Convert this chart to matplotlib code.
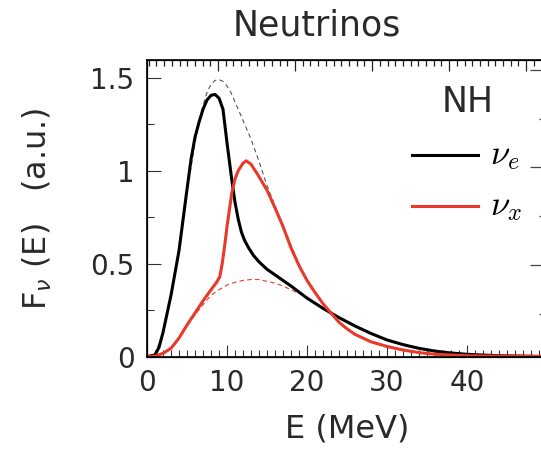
import matplotlib
matplotlib.use('Agg')
import matplotlib.pyplot as plt
from matplotlib.ticker import MultipleLocator

# nu_e spectrum (solid black)
e_nue = [0, 1, 1.5, 2, 3, 4, 5, 5.5, 6, 6.5, 7, 7.5, 8, 8.5, 9, 9.5, 9.75, 10, 10.6,
         11, 11.4, 11.8, 12.2, 12.7, 13.3, 14, 15, 16, 18, 20, 22, 24, 26, 28, 30, 32,
         34, 36, 38, 40, 44, 50]
f_nue = [0, 0.01, 0.05, 0.13, 0.33, 0.57, 0.9, 1.06, 1.18, 1.26, 1.33, 1.38, 1.405,
         1.41, 1.39, 1.33, 1.24, 1.15, 0.95, 0.83, 0.74, 0.67, 0.625, 0.585, 0.545,
         0.51, 0.47, 0.44, 0.38, 0.315, 0.26, 0.21, 0.165, 0.125, 0.09, 0.065, 0.045,
         0.03, 0.02, 0.013, 0.005, 0.001]

# nu_x spectrum (solid red)
e_nux = [0, 1, 2, 3, 4, 5, 6, 7, 8, 8.7, 9.1, 9.4, 9.75, 10, 10.6, 11, 11.4, 12, 12.4,
         13, 13.9, 15, 16, 17, 18, 19, 20, 21, 22, 23, 24, 25, 26, 28, 30, 32, 34,
         36, 40, 50]
f_nux = [0, 0.003, 0.018, 0.045, 0.1, 0.17, 0.235, 0.3, 0.36, 0.4, 0.43, 0.5, 0.61,
         0.7, 0.88, 0.955, 1.0, 1.04, 1.053, 1.035, 0.975, 0.895, 0.8, 0.7, 0.585,
         0.49, 0.41, 0.345, 0.285, 0.235, 0.185, 0.15, 0.12, 0.08, 0.055, 0.036,
         0.022, 0.013, 0.005, 0.0005]

# initial nu_e-like spectrum (dashed gray)
e_ini_e = [0, 1, 2, 3, 4, 5, 6, 6.5, 7, 7.5, 8, 8.5, 9, 9.5, 10, 10.5, 11, 11.5, 12,
           12.5, 13, 14, 15, 16, 17, 18, 19, 20, 22, 24, 26, 28, 30, 34, 40, 50]
f_ini_e = [0, 0.01, 0.13, 0.33, 0.57, 0.88, 1.15, 1.26, 1.35, 1.42, 1.465, 1.485,
           1.49, 1.48, 1.455, 1.42, 1.37, 1.32, 1.27, 1.22, 1.17, 1.05, 0.92, 0.81,
           0.705, 0.6, 0.495, 0.41, 0.285, 0.185, 0.12, 0.08, 0.055, 0.022, 0.005, 0]

# initial nu_x-like spectrum (dashed red)
e_ini_x = [0, 2, 3, 4, 5, 6, 7, 8, 9, 10, 11, 12, 13, 14, 15, 16, 17, 18, 19, 20, 21,
           22, 24, 26, 28, 30, 34, 40, 50]
f_ini_x = [0, 0.018, 0.045, 0.1, 0.165, 0.225, 0.28, 0.33, 0.36, 0.385, 0.4, 0.41,
           0.415, 0.415, 0.405, 0.395, 0.38, 0.36, 0.34, 0.32, 0.29, 0.26, 0.21,
           0.165, 0.125, 0.09, 0.045, 0.013, 0.001]

x_ticks = [0, 10, 20, 30, 40]
y_ticks = [0, 0.5, 1, 1.5]
y_tick_labels = ['0', '0.5', '1', '1.5']

RED = '#e8392b'
TXT = '#2a2a2a'
plt.rcParams['font.family'] = ['DejaVu Sans']

fig = plt.figure(figsize=(5.41, 4.5), dpi=100)
# right edge of the frame sits just outside the picture, as in the original crop
ax = fig.add_axes([147 / 541, 93.3 / 450, 400 / 541, 296.7 / 450])

ax.plot(e_ini_e, f_ini_e, color='#555555', lw=0.8, ls=(0, (4, 3)))
ax.plot(e_ini_x, f_ini_x, color=RED, lw=0.8, ls=(0, (4, 3)))
ax.plot(e_nue, f_nue, color='black', lw=2.2)
ax.plot(e_nux, f_nux, color=RED, lw=2.2)

ax.set_xlim(0, 50)
ax.set_ylim(0, 1.595)
ax.set_xticks(x_ticks, [str(t) for t in x_ticks])
ax.xaxis.set_minor_locator(MultipleLocator(1))
ax.set_yticks(y_ticks, y_tick_labels)
ax.yaxis.set_minor_locator(MultipleLocator(0.25))
ax.tick_params(which='both', direction='in', labelsize=20, color='#333333',
               labelcolor=TXT)
ax.tick_params(which='major', length=10, width=0.8)
ax.tick_params(which='minor', length=5, width=0.8)
ax.tick_params(axis='x', which='major', length=9, pad=9)
ax.tick_params(axis='y', which='major', pad=9)
for sp in ax.spines.values():
    sp.set_linewidth(1.2)

# top and right frames carry their own ticks
top = ax.twiny()
top.set_xlim(0.078, 5.27)
top.xaxis.set_major_locator(MultipleLocator(1))
top.xaxis.set_minor_locator(MultipleLocator(0.1))
top.tick_params(which='both', direction='in', labeltop=False, color='#222222', width=0.9)
top.tick_params(which='major', length=8)
top.tick_params(which='minor', length=4)

right = ax.twinx()
right.set_ylim(0.06, 3.10)
right.yaxis.set_major_locator(MultipleLocator(1))
right.yaxis.set_minor_locator(MultipleLocator(0.5))
right.tick_params(which='both', direction='in', labelright=False, color='#444444', width=0.9)
right.tick_params(which='major', length=12)
right.tick_params(which='minor', length=6)

ax.set_xlabel('E (MeV)', fontsize=23, labelpad=12, color=TXT)
ax.set_ylabel(r'F$_{\nu}$ (E)   (a.u.)', fontsize=23, labelpad=26, color=TXT)
fig.text(317 / 541, 1 - 26 / 450, 'Neutrinos', fontsize=25, ha='center', va='center',
         color=TXT)

# legend
ax.text(0.8025, 0.858, 'NH', transform=ax.transAxes, fontsize=25, ha='center',
        va='center', color=TXT)
ax.plot([0.6625, 0.8275], [0.68, 0.68], transform=ax.transAxes, color='black', lw=2.2)
ax.plot([0.6625, 0.8275], [0.508, 0.508], transform=ax.transAxes, color=RED, lw=2.2)
ax.text(0.857, 0.68, r'$\nu_e$', transform=ax.transAxes, fontsize=25, va='center',
        math_fontfamily='cm')
ax.text(0.857, 0.508, r'$\nu_x$', transform=ax.transAxes, fontsize=25, va='center',
        math_fontfamily='cm')

fig.savefig('out.png', dpi=100)
